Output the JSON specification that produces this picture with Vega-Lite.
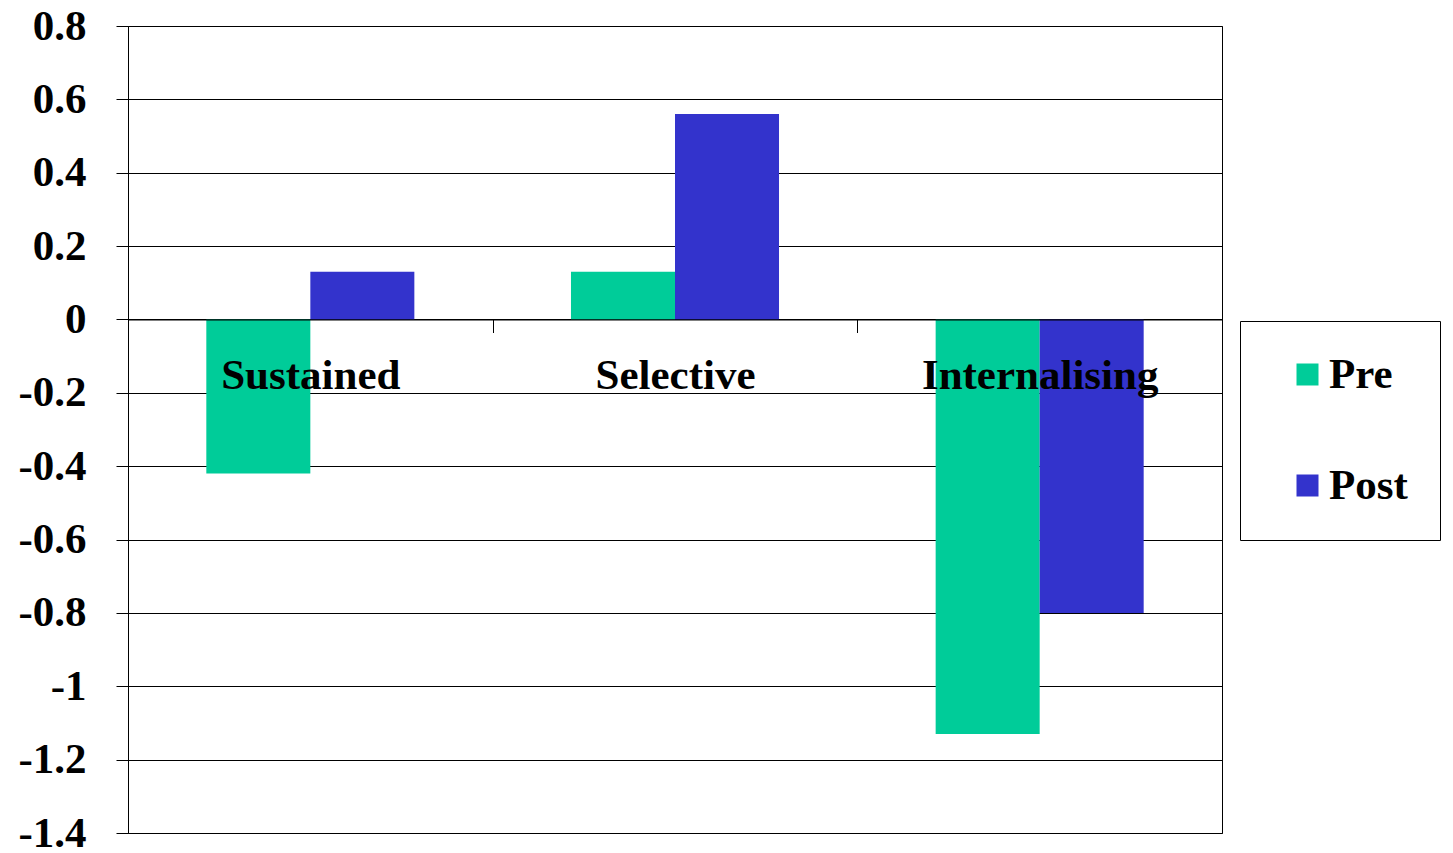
{
  "$schema": "https://vega.github.io/schema/vega-lite/v6.json",
  "autosize": "none",
  "padding": {"left": 128, "top": 26, "right": 231, "bottom": 20},
  "width": 1094,
  "height": 807,
  "background": "white",
  "config": {
    "font": "Liberation Serif",
    "view": {"stroke": "#000000", "strokeWidth": 1}
  },
  "data": {
    "values": [
      {"category": "Sustained", "series": "Pre", "value": -0.42},
      {"category": "Sustained", "series": "Post", "value": 0.13},
      {"category": "Selective", "series": "Pre", "value": 0.13},
      {"category": "Selective", "series": "Post", "value": 0.56},
      {"category": "Internalising", "series": "Pre", "value": -1.13},
      {"category": "Internalising", "series": "Post", "value": -0.8}
    ]
  },
  "mark": {"type": "bar"},
  "encoding": {
    "x": {
      "field": "category",
      "type": "nominal",
      "sort": ["Sustained", "Selective", "Internalising"],
      "scale": {"paddingInner": 0, "paddingOuter": 0},
      "axis": {
        "title": null,
        "orient": "bottom",
        "offset": -513.5,
        "labelAngle": 0,
        "labelFontSize": 43,
        "labelFontWeight": "bold",
        "labelColor": "#000000",
        "labelPadding": 22,
        "labelBaseline": "top",
        "labelLimit": 500,
        "tickBand": "extent",
        "tickSize": 13,
        "tickColor": "#000000",
        "domainColor": "#000000",
        "grid": false,
        "zindex": 1
      }
    },
    "xOffset": {
      "field": "series",
      "type": "nominal",
      "sort": ["Pre", "Post"],
      "scale": {"paddingInner": 0, "paddingOuter": 0.753}
    },
    "y": {
      "field": "value",
      "type": "quantitative",
      "scale": {"domain": [-1.4, 0.8], "nice": false, "zero": false},
      "axis": {
        "title": null,
        "values": [-1.4, -1.2, -1, -0.8, -0.6, -0.4, -0.2, 0, 0.2, 0.4, 0.6, 0.8],
        "labelExpr": "(datum.value < -0.01 ? '-' : '') + format(abs(datum.value), '.1~f')",
        "labelFontSize": 43,
        "labelFontWeight": "bold",
        "labelColor": "#000000",
        "labelPadding": 30,
        "tickSize": 12,
        "tickColor": "#000000",
        "domainColor": "#000000",
        "grid": true,
        "gridColor": "#000000",
        "gridWidth": 1,
        "gridOpacity": 1
      }
    },
    "color": {
      "field": "series",
      "type": "nominal",
      "sort": ["Pre", "Post"],
      "scale": {"domain": ["Pre", "Post"], "range": ["#00CC99", "#3333CC"]},
      "legend": {
        "title": null,
        "orient": "none",
        "legendX": 1112,
        "legendY": 295,
        "direction": "vertical",
        "strokeColor": "#000000",
        "fillColor": "#ffffff",
        "padding": 32,
        "symbolType": "square",
        "symbolSize": 484,
        "symbolStrokeWidth": 0,
        "symbolOffset": 14,
        "labelOffset": 0,
        "labelFontSize": 43,
        "labelFontWeight": "bold",
        "labelColor": "#000000",
        "labelLimit": 400,
        "rowPadding": 67
      }
    }
  }
}
